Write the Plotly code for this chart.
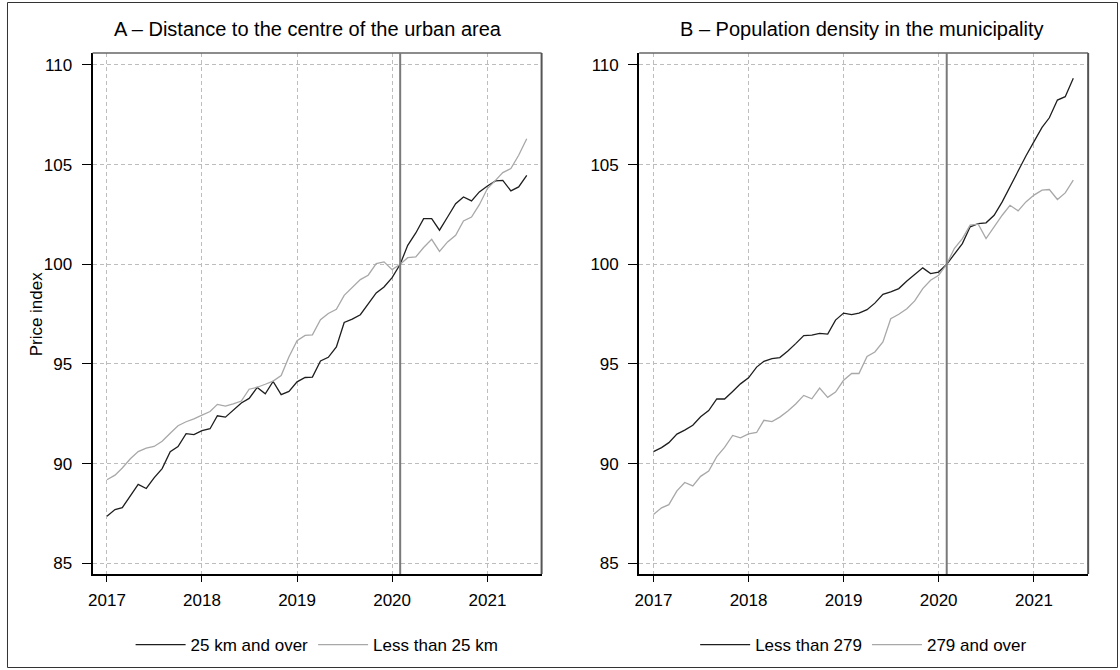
import pandas as pd
import plotly.graph_objects as go

# monthly index, Feb 2020 = 100
months = pd.date_range("2017-01-01", periods=54, freq="MS")
base_month = "2020-02-01"
year_ticks = ["2017-01-01", "2018-01-01", "2019-01-01", "2020-01-01", "2021-01-01"]
year_labels = ["2017", "2018", "2019", "2020", "2021"]

far_25km = [
    87.36, 87.69, 87.79, 88.41, 88.96, 88.75, 89.28, 89.75, 90.60, 90.85,
    91.50, 91.45, 91.65, 91.75, 92.40, 92.33, 92.67, 93.04, 93.27, 93.82,
    93.50, 94.12, 93.46, 93.62, 94.10, 94.32, 94.34, 95.15, 95.33, 95.85,
    97.08, 97.25, 97.47, 98.00, 98.56, 98.86, 99.33, 100.00, 100.95, 101.57,
    102.29, 102.29, 101.71, 102.37, 103.04, 103.38, 103.18, 103.63, 103.93, 104.18,
    104.21, 103.68, 103.88, 104.46,
]
near_25km = [
    89.19, 89.42, 89.78, 90.24, 90.60, 90.77, 90.86, 91.12, 91.52, 91.90,
    92.10, 92.24, 92.43, 92.61, 92.97, 92.88, 93.00, 93.14, 93.73, 93.83,
    93.98, 94.14, 94.42, 95.36, 96.16, 96.43, 96.46, 97.22, 97.53, 97.74,
    98.44, 98.83, 99.23, 99.45, 100.03, 100.12, 99.73, 100.00, 100.33, 100.37,
    100.84, 101.25, 100.65, 101.12, 101.45, 102.17, 102.37, 102.99, 103.80, 104.21,
    104.60, 104.80, 105.47, 106.30,
]
low_density = [
    90.60, 90.80, 91.05, 91.48, 91.68, 91.92, 92.35, 92.66, 93.24, 93.24,
    93.62, 94.00, 94.30, 94.84, 95.13, 95.27, 95.32, 95.65, 96.02, 96.42,
    96.44, 96.53, 96.50, 97.20, 97.55, 97.47, 97.55, 97.72, 98.05, 98.49,
    98.61, 98.78, 99.16, 99.50, 99.82, 99.53, 99.61, 100.00, 100.49, 101.04,
    101.88, 102.04, 102.08, 102.46, 103.13, 103.89, 104.72, 105.43, 106.15, 106.87,
    107.35, 108.24, 108.41, 109.33,
]
high_density = [
    87.44, 87.78, 87.94, 88.63, 89.05, 88.88, 89.36, 89.63, 90.35, 90.81,
    91.41, 91.29, 91.49, 91.56, 92.17, 92.11, 92.33, 92.64, 92.99, 93.42,
    93.25, 93.79, 93.32, 93.59, 94.18, 94.52, 94.52, 95.38, 95.60, 96.10,
    97.27, 97.49, 97.77, 98.16, 98.78, 99.20, 99.45, 100.00, 100.79, 101.29,
    101.96, 102.01, 101.29, 101.88, 102.46, 102.96, 102.68, 103.13, 103.47, 103.72,
    103.75, 103.25, 103.58, 104.22,
]

DARK = "#1e1e1e"
LIGHT = "#a8a8a8"
FONT = "Liberation Sans, Arial"

W, H = 1120, 670
# plot boxes in pixels (left, right), shared top/bottom
box_a = (88, 539)
box_b = (637, 1088)
top, bottom = 53, 574

fig = go.Figure()

panels = [
    ("x", "y", "legend", far_25km, "25 km and over", near_25km, "Less than 25 km"),
    ("x2", "y2", "legend2", low_density, "Less than 279", high_density, "279 and over"),
]
for xa, ya, leg, dark_vals, dark_name, light_vals, light_name in panels:
    fig.add_trace(go.Scatter(
        x=months, y=dark_vals, mode="lines", name=dark_name,
        line={"color": DARK, "width": 1.3}, xaxis=xa, yaxis=ya, legend=leg,
    ))
    fig.add_trace(go.Scatter(
        x=months, y=light_vals, mode="lines", name=light_name,
        line={"color": LIGHT, "width": 1.3}, xaxis=xa, yaxis=ya, legend=leg,
    ))

x_common = dict(
    type="date",
    range=["2016-11-07", "2021-07-28"],
    tickmode="array",
    tickvals=year_ticks,
    ticktext=year_labels,
    ticks="outside",
    ticklen=6,
    tickcolor="black",
    showline=True,
    linecolor="black",
    linewidth=2,
    mirror=False,
    showgrid=True,
    gridcolor="#bdbdbd",
    griddash="4px,3px",
    gridwidth=1,
    zeroline=False,
    ticklabelstandoff=4,
    tickfont={"size": 17, "color": "black"},
)
y_common = dict(
    range=[84.46, 110.6],
    tickvals=[85, 90, 95, 100, 105, 110],
    ticks="outside",
    ticklen=9,
    tickcolor="black",
    showline=True,
    linecolor="black",
    linewidth=2,
    showgrid=True,
    gridcolor="#bdbdbd",
    griddash="4px,3px",
    gridwidth=1,
    zeroline=False,
    ticklabelstandoff=6,
    tickfont={"size": 17, "color": "black"},
)
ydom = [1 - bottom / H, 1 - top / H]

fig.update_layout(
    xaxis=dict(x_common, domain=[box_a[0] / W, box_a[1] / W], anchor="y"),
    yaxis=dict(y_common, domain=ydom, anchor="x"),
    xaxis2=dict(x_common, domain=[box_b[0] / W, box_b[1] / W], anchor="y2"),
    yaxis2=dict(y_common, domain=ydom, anchor="x2"),
)

# grey top/right box edges and the base-month marker
for xd, yd, xr in [("x domain", "y domain", "x"), ("x2 domain", "y2 domain", "x2")]:
    fig.add_shape(type="line", xref=xd, yref=yd, x0=0, x1=1, y0=1, y1=1,
                  line={"color": "#666666", "width": 1.5})
    fig.add_shape(type="line", xref=xd, yref=yd, x0=1, x1=1, y0=0, y1=1,
                  line={"color": "#555555", "width": 2})
    fig.add_shape(type="line", xref=xr, yref=yd, x0=base_month, x1=base_month, y0=0, y1=1,
                  line={"color": "#7a7a7a", "width": 2})

# outer frame
fig.add_shape(type="rect", xref="paper", yref="paper",
              x0=2.5 / W, x1=1 - 2.5 / W, y0=2.5 / H, y1=1 - 2.5 / H,
              line={"color": "#333333", "width": 1})

fig.add_annotation(text="A \u2013 Distance to the centre of the urban area",
                   xref="paper", yref="paper", x=304 / W, y=1 - 29 / H,
                   showarrow=False, font={"size": 20}, xanchor="center", yanchor="middle")
fig.add_annotation(text="B \u2013 Population density in the municipality",
                   xref="paper", yref="paper", x=861 / W, y=1 - 29 / H,
                   showarrow=False, font={"size": 20}, xanchor="center", yanchor="middle")
fig.add_annotation(text="Price index", textangle=-90,
                   xref="paper", yref="paper", x=32 / W, y=1 - (top + bottom) / 2 / H,
                   showarrow=False, font={"size": 17}, xanchor="center", yanchor="middle")

legend_common = dict(
    orientation="h", xanchor="center", yanchor="middle", y=1 - 645 / H,
    font={"size": 17, "color": "black"}, bgcolor="rgba(0,0,0,0)",
    itemwidth=50, tracegroupgap=0,
)
fig.update_layout(
    legend=dict(legend_common, x=(box_a[0] + box_a[1]) / 2 / W),
    legend2=dict(legend_common, x=(box_b[0] + box_b[1]) / 2 / W),
    width=W,
    height=H,
    margin={"l": 0, "r": 0, "t": 0, "b": 0},
    paper_bgcolor="white",
    plot_bgcolor="white",
    font={"family": FONT, "color": "black"},
    showlegend=True,
)

# the page body has a default 8px margin; drop it so the figure fills the window
fig.write_html(
    "out.html",
    config={"displayModeBar": False},
    post_script="document.body.style.margin = '0';",
)
